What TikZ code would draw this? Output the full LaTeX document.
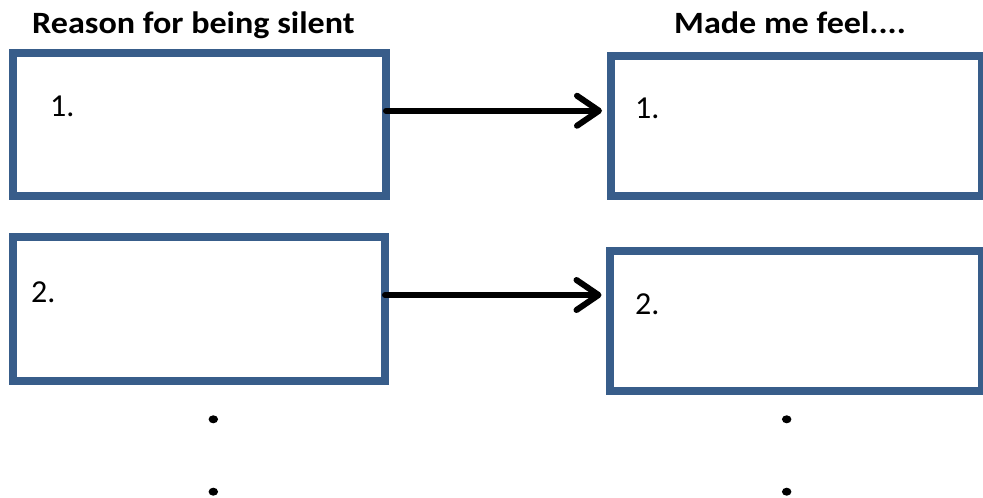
\documentclass[tikz,border=0pt]{standalone}
\usepackage{fontspec}
\setmainfont{Carlito}
\usetikzlibrary{arrows.meta,shapes.geometric}
\definecolor{boxblue}{HTML}{385D8A}
\newcommand{\widehead}[1]{\scalebox{1.1}[1]{#1}}
\begin{document}
\begin{tikzpicture}[x=1pt,y=-1pt,
  entry/.style={draw=boxblue,line width=8pt,rectangle,inner sep=0pt,outer sep=0pt,fill=white},
  heading/.style={anchor=base west,inner sep=0pt,font=\fontsize{31}{36}\selectfont\bfseries},
  num/.style={anchor=base west,inner sep=0pt,font=\fontsize{32}{38}\selectfont},
  arr/.style={line width=6pt,line cap=round,
    -{Straight Barb[length=22pt,width=30pt,line cap=round,line join=round]},shorten >=8.5pt},
  dotmark/.style={ellipse,fill=black,inner sep=0pt,minimum width=9.5pt,minimum height=8pt}
]
\useasboundingbox (0,0) rectangle (983,498);

% column headings
\node[heading] (h1) at (32,33.3) {\widehead{Reason for being silent}};
\node[heading] (h2) at (674,33.3) {\widehead{Made me feel....}};

% answer boxes
\node[entry,minimum width=373pt,minimum height=143.5pt] (L1) at (199.5,124.25) {};
\node[entry,minimum width=372pt,minimum height=144pt] (L2) at (199,309) {};
\node[entry,minimum width=371.5pt,minimum height=140pt] (R1) at (796.25,126) {};
\node[entry,minimum width=372pt,minimum height=140.5pt] (R2) at (796,320.75) {};

% numbering inside the boxes
\node[num] (n1) at (50,116.7) {1.};
\node[num] (n2) at (635,118.5) {1.};
\node[num] (n3) at (31,302) {2.};
\node[num] (n4) at (635,314) {2.};

% links from reasons to feelings
\draw[arr] ([yshift=13.5pt]L1.east) -- ([yshift=13.5pt]L1.east -| R1.west);
\draw[arr] ([yshift=14pt]L2.east) -- ([yshift=14pt]L2.east -| R2.west);

% continuation marks
\node[dotmark] (d1) at (213.3,419.3) {};
\node[dotmark] (d2) at (213.3,491.7) {};
\node[dotmark] (d3) at (786.7,419.3) {};
\node[dotmark] (d4) at (786.7,491.7) {};
\end{tikzpicture}
\end{document}
